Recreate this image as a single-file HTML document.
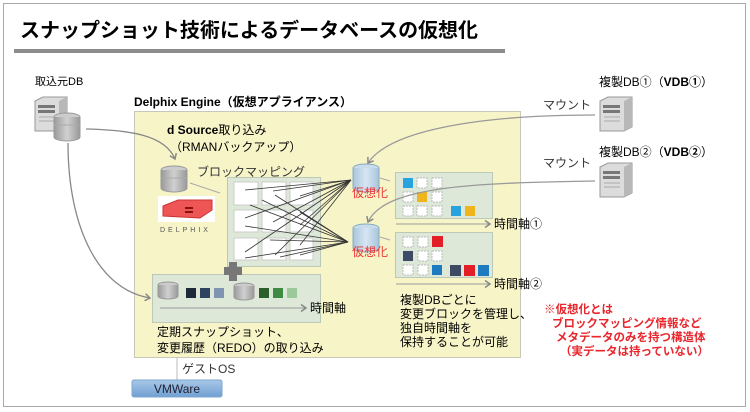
<!DOCTYPE html>
<html><head><meta charset="utf-8"><style>
body{margin:0;background:#fff;}
svg{display:block;font-family:"Liberation Sans","Noto Sans CJK JP",sans-serif;}
</style></head><body>
<svg width="750" height="412" viewBox="0 0 750 412" xmlns="http://www.w3.org/2000/svg">
<defs>
<marker id="ah" markerWidth="8" markerHeight="8" refX="6" refY="4" orient="auto" markerUnits="userSpaceOnUse"><path d="M1,0.5 L6,4 L1,7.5" fill="none" stroke="#888" stroke-width="1.5"/></marker>
<linearGradient id="cylB" x1="0" x2="1"><stop offset="0" stop-color="#a9c4dc"/><stop offset="0.5" stop-color="#d6e6f2"/><stop offset="1" stop-color="#a9c4dc"/></linearGradient>
<linearGradient id="cylG" x1="0" x2="1"><stop offset="0" stop-color="#9a9a9a"/><stop offset="0.5" stop-color="#d0d0d0"/><stop offset="1" stop-color="#9a9a9a"/></linearGradient>
<linearGradient id="vm" x1="0" y1="0" x2="0" y2="1"><stop offset="0" stop-color="#a9c8e8"/><stop offset="1" stop-color="#6f9fd2"/></linearGradient>
<g id="srv"><path d="M0,4 L8,0 L32,0 L32,30 L24,34 L0,34 Z" fill="#dcdcdc" stroke="#999"/><path d="M24,4 L32,0 L32,30 L24,34 Z" fill="#b8b8b8"/><rect x="3" y="8" width="17" height="3" fill="#777"/><rect x="3" y="13" width="17" height="3" fill="#777"/><line x1="4" y1="20" x2="20" y2="20" stroke="#aaa"/><line x1="4" y1="24" x2="20" y2="24" stroke="#aaa"/></g>
</defs>
<rect x="3.5" y="3.5" width="742" height="403" fill="#fff" stroke="#aaa"/>
<text x="20" y="37" font-size="20" font-weight="bold" fill="#000" textLength="458" lengthAdjust="spacingAndGlyphs">スナップショット技術によるデータベースの仮想化</text>
<rect x="14" y="49" width="491" height="4" fill="#8c8c8c"/>

<rect x="134.5" y="111.5" width="386" height="246" fill="#f7f5c8" stroke="#c8c8b8"/>
<text x="134" y="106" font-size="12" font-weight="bold">Delphix Engine（仮想アプライアンス）</text>
<text x="167" y="134" font-size="12"><tspan font-weight="bold">d Source</tspan>取り込み</text>
<text x="170" y="151" font-size="12">（RMANバックアップ）</text>

<text x="35" y="85" font-size="11">取込元DB</text>
<use href="#srv" x="35" y="97"/>
<ellipse cx="67" cy="117" rx="13" ry="4" fill="#ccc" stroke="#999"/>
<path d="M54,117 v20 a13,4 0 0 0 26,0 v-20" fill="url(#cylG)" stroke="#999"/>
<line x1="54" y1="125" x2="80" y2="125" stroke="#aaa"/>
<path d="M86,129 C130,130 165,135 175,159" fill="none" stroke="#888" stroke-width="1.3" marker-end="url(#ah)"/>
<path d="M68,143 C68,230 100,290 150,298" fill="none" stroke="#888" stroke-width="1.3" marker-end="url(#ah)"/>

<ellipse cx="174" cy="170" rx="13" ry="4" fill="#ccc" stroke="#999"/>
<path d="M161,170 v18 a13,4 0 0 0 26,0 v-18" fill="url(#cylG)" stroke="#999"/>
<line x1="161" y1="178" x2="187" y2="178" stroke="#aaa"/>
<text x="197" y="176" font-size="12" fill="#333">ブロックマッピング</text>
<line x1="190" y1="183" x2="220" y2="193" stroke="#aaa"/>
<rect x="158" y="196" width="57" height="26" fill="#fff"/>
<path d="M163,206 L178,200 L212,200 L212,210 L200,218 L163,216 Z" fill="#e55" stroke="#c33"/>
<rect x="185" y="207" width="8" height="2" fill="#811"/><rect x="185" y="211" width="8" height="2" fill="#811"/>
<text x="160" y="232" font-size="7" letter-spacing="3" fill="#555">DELPHIX</text>

<rect x="227.5" y="177.5" width="93" height="89" fill="#dde8d8" stroke="#bcc8b8"/>
<g fill="#fff" stroke="#ccc">
<rect x="234" y="182" width="24" height="23"/><rect x="262" y="182" width="24" height="23"/><rect x="290" y="182" width="23" height="23"/>
<rect x="234" y="210" width="24" height="22"/><rect x="262" y="210" width="24" height="22"/><rect x="290" y="210" width="23" height="22"/>
<rect x="234" y="238" width="24" height="22"/><rect x="262" y="238" width="24" height="22"/><rect x="290" y="238" width="23" height="22"/>
</g>
<g stroke="#333" stroke-width="0.8">
<line x1="245" y1="190" x2="351" y2="180"/><line x1="273" y1="191" x2="351" y2="180"/><line x1="300" y1="196" x2="351" y2="180"/>
<line x1="245" y1="218" x2="351" y2="180"/><line x1="273" y1="222" x2="351" y2="180"/><line x1="300" y1="225" x2="351" y2="180"/>
<line x1="245" y1="252" x2="351" y2="180"/><line x1="275" y1="255" x2="351" y2="180"/><line x1="300" y1="245" x2="351" y2="180"/>
<line x1="250" y1="205" x2="348" y2="242"/><line x1="275" y1="195" x2="348" y2="242"/><line x1="245" y1="226" x2="348" y2="242"/>
<line x1="270" y1="240" x2="348" y2="242"/><line x1="245" y1="258" x2="348" y2="242"/><line x1="280" y1="257" x2="348" y2="242"/>
<line x1="300" y1="255" x2="348" y2="242"/><line x1="300" y1="212" x2="348" y2="242"/><line x1="262" y1="200" x2="348" y2="242"/>
</g>

<rect x="152.5" y="274.5" width="168" height="48" fill="#dde8d8" stroke="#bcc8b8"/>
<rect x="229" y="262" width="8" height="19" fill="#777"/>
<rect x="224" y="267" width="18" height="8" fill="#777"/>
<ellipse cx="168" cy="285" rx="10" ry="3" fill="#ccc" stroke="#999"/>
<path d="M158,285 v11 a10,3 0 0 0 20,0 v-11" fill="url(#cylG)" stroke="#999"/>
<rect x="186" y="288" width="10" height="10" fill="#1e2a3a"/><rect x="200" y="288" width="10" height="10" fill="#2f4260"/><rect x="214" y="288" width="10" height="10" fill="#7f94b0"/>
<ellipse cx="244" cy="286" rx="10" ry="3" fill="#ccc" stroke="#999"/>
<path d="M234,286 v11 a10,3 0 0 0 20,0 v-11" fill="url(#cylG)" stroke="#999"/>
<rect x="259" y="288" width="10" height="10" fill="#2a5e2a"/><rect x="273" y="288" width="10" height="10" fill="#3e8c44"/><rect x="287" y="288" width="10" height="10" fill="#9cc99a"/>
<line x1="160" y1="308" x2="306" y2="308" stroke="#999" marker-end="url(#ah)"/>
<text x="310" y="312" font-size="12">時間軸</text>
<text x="157" y="336" font-size="12">定期スナップショット、</text>
<text x="157" y="352" font-size="12">変更履歴（REDO）の取り込み</text>

<ellipse cx="366" cy="168" rx="13" ry="4" fill="#c8dcec" stroke="#8ab"/>
<path d="M353,168 v20 a13,4 0 0 0 26,0 v-20" fill="url(#cylB)" stroke="#8ab"/>
<text x="352" y="197" font-size="12" fill="#e33">仮想化</text>
<ellipse cx="366" cy="228" rx="13" ry="4" fill="#c8dcec" stroke="#8ab"/>
<path d="M353,228 v20 a13,4 0 0 0 26,0 v-20" fill="url(#cylB)" stroke="#8ab"/>
<text x="352" y="256" font-size="12" fill="#e33">仮想化</text>
<line x1="380" y1="178" x2="390" y2="181" stroke="#aaa"/>
<line x1="380" y1="237" x2="390" y2="240" stroke="#aaa"/>

<rect x="395.5" y="172.5" width="97" height="46" fill="#dde8d8" stroke="#bcc8b8"/>
<g fill="#fff" stroke="#bbb" stroke-dasharray="2,1">
<rect x="417" y="178" width="10" height="10"/><rect x="432" y="178" width="10" height="10"/>
<rect x="403" y="192" width="10" height="10"/><rect x="432" y="192" width="10" height="10"/>
<rect x="403" y="206" width="10" height="10"/><rect x="417" y="206" width="10" height="10"/><rect x="432" y="206" width="10" height="10"/>
</g>
<rect x="403" y="178" width="10" height="10" fill="#29a3e0"/><rect x="417" y="192" width="10" height="10" fill="#f0b41c"/>
<rect x="451" y="206" width="10" height="10" fill="#29a3e0"/><rect x="465" y="206" width="10" height="10" fill="#f0b41c"/>
<line x1="396" y1="224" x2="490" y2="224" stroke="#999" marker-end="url(#ah)"/>
<text x="494" y="228" font-size="12">時間軸①</text>

<rect x="395.5" y="232.5" width="97" height="45" fill="#dde8d8" stroke="#bcc8b8"/>
<g fill="#fff" stroke="#bbb" stroke-dasharray="2,1">
<rect x="403" y="237" width="10" height="10"/><rect x="418" y="237" width="10" height="10"/>
<rect x="418" y="251" width="10" height="10"/><rect x="432" y="251" width="10" height="10"/>
<rect x="403" y="265" width="10" height="10"/><rect x="418" y="265" width="10" height="10"/>
</g>
<rect x="432" y="236" width="11" height="11" fill="#e21e26"/><rect x="403" y="251" width="10" height="10" fill="#3d4a63"/>
<rect x="432" y="265" width="10" height="10" fill="#1f7bbf"/>
<rect x="450" y="265" width="11" height="11" fill="#3d4a63"/><rect x="464" y="265" width="11" height="11" fill="#e21e26"/><rect x="478" y="265" width="11" height="11" fill="#1f7bbf"/>
<line x1="396" y1="284" x2="490" y2="284" stroke="#999" marker-end="url(#ah)"/>
<text x="494" y="288" font-size="12">時間軸②</text>

<text x="400" y="304" font-size="12">複製DBごとに</text>
<text x="400" y="318" font-size="12">変更ブロックを管理し、</text>
<text x="400" y="332" font-size="12">独自時間軸を</text>
<text x="400" y="346" font-size="12">保持することが可能</text>

<text x="599" y="86" font-size="12">複製DB①（<tspan font-weight="bold">VDB①</tspan>）</text>
<use href="#srv" x="600" y="97"/>
<text x="543" y="109" font-size="12" fill="#333">マウント</text>
<path d="M595,115 C480,115 390,130 368,163" fill="none" stroke="#999" stroke-width="1.3" marker-end="url(#ah)"/>
<text x="599" y="156" font-size="12">複製DB②（<tspan font-weight="bold">VDB②</tspan>）</text>
<use href="#srv" x="600" y="163"/>
<text x="543" y="167" font-size="12" fill="#333">マウント</text>
<path d="M595,181 C480,183 385,185 368,222" fill="none" stroke="#999" stroke-width="1.3" marker-end="url(#ah)"/>

<g font-size="11.5" font-weight="bold" fill="#e8262c">
<text x="544" y="313">※仮想化とは</text>
<text x="552" y="327">ブロックマッピング情報など</text>
<text x="556" y="341">メタデータのみを持つ構造体</text>
<text x="560" y="355">（実データは持っていない）</text>
</g>

<line x1="177" y1="358" x2="177" y2="380" stroke="#bbb"/>
<text x="182" y="373" font-size="12" fill="#333">ゲストOS</text>
<rect x="132" y="380" width="90" height="17" rx="2" fill="url(#vm)" stroke="#7fa7d0"/>
<text x="177" y="393" font-size="12" text-anchor="middle" fill="#223">VMWare</text>
</svg>
</body></html>
